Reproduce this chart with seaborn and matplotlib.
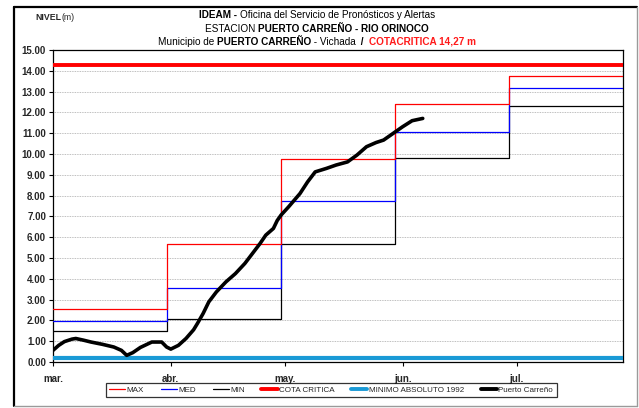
import matplotlib
matplotlib.use("Agg")
import matplotlib.pyplot as plt
import seaborn as sns
import pandas as pd
from matplotlib.lines import Line2D

# --- data -------------------------------------------------------------
# day index counted from 1 March
month_days = [0, 31, 61, 92, 122]
month_labels = ["mar.", "abr.", "may.", "jun.", "jul."]

# monthly reference levels (m); each level holds from its start day on
step_days = [0, 30, 60, 90, 120, 150]
max_levels = [2.57, 5.66, 9.75, 12.38, 13.76, 13.76]
med_levels = [1.96, 3.57, 7.75, 11.04, 13.18, 13.18]
min_levels = [1.47, 2.05, 5.68, 9.82, 12.33, 12.33]

cota_critica = 14.27
minimo_absoluto_1992 = 0.20

# observed stage at Puerto Carreño
obs_days = [0, 1.5, 3, 5, 6, 8, 10, 13, 16, 18, 19.4, 21, 23, 26, 28.6,
            29.9, 31, 33, 35, 37, 38, 39.5, 41, 43, 45.5, 48, 50.5, 52.5,
            54.5, 56, 58, 59, 60, 62, 65, 67, 69, 72, 74.5, 77.5, 80,
            82.5, 85, 87, 89.5, 92, 94.5, 97.3]
obs_level = [0.56, 0.80, 0.98, 1.10, 1.13, 1.05, 0.96, 0.85, 0.72, 0.56,
             0.32, 0.45, 0.70, 0.96, 0.96, 0.72, 0.62, 0.80, 1.13, 1.55,
             1.85, 2.33, 2.89, 3.37, 3.85, 4.25, 4.74, 5.22, 5.70, 6.10,
             6.42, 6.80, 7.06, 7.46, 8.10, 8.66, 9.14, 9.31, 9.47, 9.62,
             9.95, 10.35, 10.55, 10.67, 10.99, 11.31, 11.60, 11.71]

x_end = 150

# --- figure -----------------------------------------------------------
W, H = 639, 408
sns.set_style("white")
plt.rcParams["font.family"] = ["Liberation Sans", "DejaVu Sans"]

fig = plt.figure(figsize=(W / 100, H / 100), dpi=100)
ax = fig.add_axes([53 / W, 1 - 362 / H, (623 - 53) / W, (362 - 50) / H])

steps = pd.DataFrame({"dia": step_days, "MAX": max_levels,
                      "MED": med_levels, "MIN": min_levels})
obs = pd.DataFrame({"dia": obs_days, "nivel": obs_level})
flat = pd.DataFrame({"dia": [0, x_end]})

sns.lineplot(data=flat, x="dia", y=[minimo_absoluto_1992] * 2, ax=ax,
             color="#1a9ad6", linewidth=3.0, zorder=3)
sns.lineplot(data=steps, x="dia", y="MIN", ax=ax, color="black",
             linewidth=0.9, drawstyle="steps-post", zorder=4)
sns.lineplot(data=steps, x="dia", y="MED", ax=ax, color="#0000ff",
             linewidth=0.9, drawstyle="steps-post", zorder=5)
sns.lineplot(data=steps, x="dia", y="MAX", ax=ax, color="#ff0000",
             linewidth=0.9, drawstyle="steps-post", zorder=6)
sns.lineplot(data=flat, x="dia", y=[cota_critica] * 2, ax=ax,
             color="#ff0000", linewidth=2.8, zorder=7)
sns.lineplot(data=obs, x="dia", y="nivel", ax=ax, color="black",
             linewidth=2.6, sort=False, zorder=8, estimator=None)

ax.set_xlim(0, x_end)
ax.set_ylim(0, 15)
ax.set_yticks(range(0, 16))
ax.set_yticklabels([f"{v:.2f}" for v in range(0, 16)],
                   fontsize=7, fontweight="bold")
ax.set_xticks(month_days)
ax.set_xticklabels(month_labels, fontsize=7, fontweight="bold")
ax.set_xlabel("")
ax.set_ylabel("")
ax.tick_params(axis="both", direction="out", length=3, width=0.8,
               color="black", pad=2, left=True, bottom=True)
ax.tick_params(axis="x", pad=6)
ax.yaxis.grid(True, linestyle=(0, (1, 1)), color="#a8a8a8", linewidth=0.6)
ax.xaxis.grid(False)
for sp in ax.spines.values():
    sp.set_visible(True)
    sp.set_color("black")
    sp.set_linewidth(0.9)

# --- legend -----------------------------------------------------------
handles = [
    Line2D([], [], color="#ff0000", lw=0.9),
    Line2D([], [], color="#0000ff", lw=0.9),
    Line2D([], [], color="black", lw=0.9),
    Line2D([], [], color="#ff0000", lw=2.8),
    Line2D([], [], color="#1a9ad6", lw=2.8),
    Line2D([], [], color="black", lw=2.8),
]
labels = ["MAX", "MED", "MIN", "COTA CRITICA", "MINIMO ABSOLUTO 1992",
          "Puerto Carreño"]
leg = fig.legend(handles, labels, loc="center", ncol=6,
                 bbox_to_anchor=(331 / W, 1 - 390 / H), fontsize=5.8,
                 frameon=True, fancybox=False, handlelength=2.0,
                 handletextpad=0.15, columnspacing=2.1, borderpad=0.45,
                 borderaxespad=0)
leg.get_frame().set_edgecolor("black")
leg.get_frame().set_linewidth(0.9)

# --- titles -----------------------------------------------------------
renderer = fig.canvas.get_renderer()


def centred_line(y_px, pieces, cx_px=317, size=7.2):
    texts = []
    total = 0.0
    for s, weight, color in pieces:
        t = fig.text(0, 0, s, fontsize=size, fontweight=weight,
                     color=color, va="center", ha="left")
        w = t.get_window_extent(renderer).width
        texts.append((t, w))
        total += w
    x = cx_px - total / 2
    for t, w in texts:
        t.set_position((x / W, 1 - y_px / H))
        x += w


centred_line(15, [("IDEAM - ", "bold", "black"),
                  ("Oficina del Servicio de Pronósticos y Alertas",
                   "normal", "black")])
centred_line(29, [("ESTACION ", "normal", "black"),
                  ("PUERTO CARREÑO - RIO ORINOCO", "bold", "black")])
centred_line(42, [("Municipio de ", "normal", "black"),
                  ("PUERTO CARREÑO", "bold", "black"),
                  (" - Vichada ", "normal", "black"),
                  (" /  ", "bold", "black"),
                  ("COTACRITICA 14,27 m", "bold", "#ff1a1a")])

fig.text(35 / W, 1 - 17 / H, "NIVEL", fontsize=6.3, fontweight="bold",
         va="center", ha="left")
fig.text(62 / W, 1 - 17 / H, "(m)", fontsize=6.3, va="center", ha="left")

# outer frame of the chart block
fig.add_artist(Line2D([14 / W, 14 / W], [1 - 406 / H, 1 - 7 / H],
                      color="black", lw=1.6, transform=fig.transFigure))
fig.add_artist(Line2D([14 / W, 637 / W], [1 - 7 / H, 1 - 7 / H],
                      color="black", lw=1.6, transform=fig.transFigure))
fig.add_artist(Line2D([14 / W, 637 / W], [1 - 406 / H, 1 - 406 / H],
                      color="#9a9a9a", lw=1.0, transform=fig.transFigure))
fig.add_artist(Line2D([637 / W, 637 / W], [1 - 406 / H, 1 - 7 / H],
                      color="#9a9a9a", lw=1.0, transform=fig.transFigure))

fig.savefig("out.png", dpi=100)
